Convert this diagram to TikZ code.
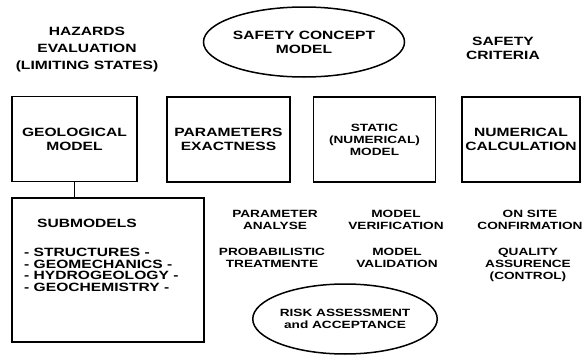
\documentclass[tikz,border=0pt]{standalone}
\usepackage{fontspec}
\setmainfont{Liberation Sans}[FakeStretch=1.3]
\usetikzlibrary{shapes.geometric, positioning}

\begin{document}
\begin{tikzpicture}[
  x=1pt, y=-1pt,
  every node/.style={align=center, inner sep=0pt},
  bigtext/.style={font=\fontsize{12}{14}\selectfont\bfseries},
  smalltext/.style={font=\fontsize{10.5}{12}\selectfont\bfseries},
  modelbox/.style={
    draw, line width=1.5pt, bigtext,
    minimum width=123, minimum height=85
  },
  conceptoval/.style={
    draw, ellipse, line width=1.5pt,
    minimum width=172, minimum height=70
  },
  link/.style={line width=1.5pt},
]
\useasboundingbox (0,0) rectangle (582,356);

%% ─── Top row: evaluation, concept, criteria ──────────────────────────────────

\node[bigtext, font=\fontsize{12}{17}\selectfont\bfseries]
  (hazards) at (87,50) {HAZARDS\\EVALUATION\\(LIMITING STATES)};
\node[conceptoval, bigtext] (safety) at (304,42) {SAFETY CONCEPT\\MODEL};
\node[bigtext] (criteria) at (503,48) {SAFETY\\CRITERIA};

%% ─── Model boxes ─────────────────────────────────────────────────────────────

\node[modelbox, minimum width=125] (geo)     at (74.5,139)  {GEOLOGICAL\\MODEL};
\node[modelbox]                    (param)   at (228.5,139.5) {PARAMETERS\\EXACTNESS};
\node[modelbox, minimum width=122, smalltext]
                                   (static)  at (374.5,139.5) {STATIC\\(NUMERICAL)\\MODEL};
\node[modelbox, minimum width=118] (numcalc) at (521,139.5)  {NUMERICAL\\CALCULATION};

%% ─── Submodels ───────────────────────────────────────────────────────────────

\node[draw, line width=1.5pt, minimum width=192, minimum height=144]
  (submodels) at (108,270) {};
\node[bigtext] (subtitle) at (87,223) {SUBMODELS};
\node[bigtext, font=\fontsize{12}{11.5}\selectfont\bfseries, align=left, anchor=west]
  (sublist) at (24,270)
  {- STRUCTURES -\\- GEOMECHANICS -\\- HYDROGEOLOGY -\\- GEOCHEMISTRY -};

\draw[link] (geo.south) -- (geo.south |- submodels.north);

%% ─── Checks below the boxes ──────────────────────────────────────────────────

\node[smalltext] (paranal)   at (275,220) {PARAMETER\\ANALYSE};
\node[smalltext] (probtreat) at (272,258) {PROBABILISTIC\\TREATMENTE};
\node[smalltext] (modver)    at (396,220) {MODEL\\VERIFICATION};
\node[smalltext] (modval)    at (397,258) {MODEL\\VALIDATION};
\node[smalltext] (onsite)    at (530,220) {ON SITE\\CONFIRMATION};
\node[smalltext] (quality)   at (528,265) {QUALITY\\ASSURENCE\\(CONTROL)};

%% ─── Risk ────────────────────────────────────────────────────────────────────

\node[conceptoval, smalltext, minimum width=170] (risk) at (345,319)
  {RISK ASSESSMENT\\and ACCEPTANCE};

\end{tikzpicture}
\end{document}
